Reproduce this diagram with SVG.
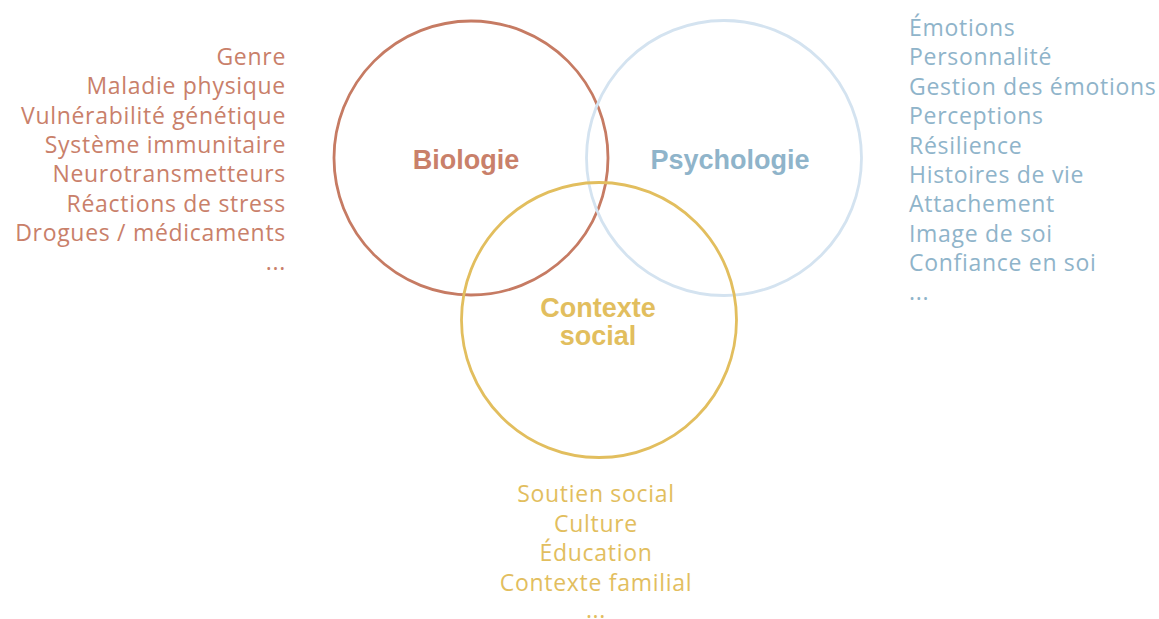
<svg xmlns="http://www.w3.org/2000/svg" width="1159" height="619" viewBox="0 0 1159 619">
<style>
.ring{fill:none;stroke-width:2.8}
.lbl{font-family:"Liberation Sans",Arial,sans-serif;font-weight:bold;font-size:27px;text-anchor:middle}
.lst{font-family:"Open Sans","Liberation Sans",Arial,sans-serif;font-size:23px;letter-spacing:0.7px}
.r{text-anchor:end}
.m{text-anchor:middle}
.bio{fill:#C9806A}
.psy{fill:#8FB4CA}
.soc{fill:#E2BE5E}
</style>
<rect width="1159" height="619" fill="#ffffff"/>
<g id="connectors"></g>
<g id="biologie">
<circle class="ring" cx="471" cy="158" r="137" stroke="#C67B63"/>
<text class="lbl bio" x="466" y="169">Biologie</text>
<text class="lst bio r" x="286" y="65">Genre</text>
<text class="lst bio r" x="286" y="94.3">Maladie physique</text>
<text class="lst bio r" x="286" y="123.6">Vulnérabilité génétique</text>
<text class="lst bio r" x="286" y="152.9">Système immunitaire</text>
<text class="lst bio r" x="286" y="182.2">Neurotransmetteurs</text>
<text class="lst bio r" x="286" y="211.5">Réactions de stress</text>
<text class="lst bio r" x="286" y="240.8">Drogues / médicaments</text>
<text class="lst bio r" x="286" y="270">...</text>
</g>
<g id="psychologie">
<circle class="ring" cx="724" cy="158" r="137.5" stroke="#D4E3F0"/>
<text class="lbl psy" x="730" y="169">Psychologie</text>
<text class="lst psy" x="909" y="36">Émotions</text>
<text class="lst psy" x="909" y="65.4">Personnalité</text>
<text class="lst psy" x="909" y="94.8">Gestion des émotions</text>
<text class="lst psy" x="909" y="124.2">Perceptions</text>
<text class="lst psy" x="909" y="153.6">Résilience</text>
<text class="lst psy" x="909" y="183">Histoires de vie</text>
<text class="lst psy" x="909" y="212.4">Attachement</text>
<text class="lst psy" x="909" y="241.8">Image de soi</text>
<text class="lst psy" x="909" y="271.2">Confiance en soi</text>
<text class="lst psy" x="909" y="300">...</text>
</g>
<g id="contexte-social">
<circle class="ring" cx="599" cy="320" r="137.5" stroke="#E2BE5E"/>
<text class="lbl soc" x="598" y="317">Contexte</text>
<text class="lbl soc" x="598" y="345">social</text>
<text class="lst soc m" x="596" y="502">Soutien social</text>
<text class="lst soc m" x="596" y="531.5">Culture</text>
<text class="lst soc m" x="596" y="561">Éducation</text>
<text class="lst soc m" x="596" y="590.5">Contexte familial</text>
<text class="lst soc m" x="596" y="618">...</text>
</g>
</svg>
